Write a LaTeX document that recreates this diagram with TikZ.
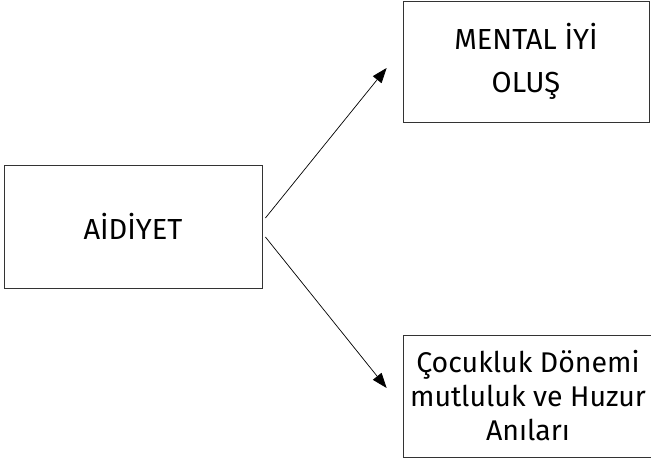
\documentclass[tikz,border=0pt]{standalone}
\usepackage{fontspec}
\setmainfont{Fira Sans}
\usepackage{tikz}
\usetikzlibrary{arrows.meta}

\begin{document}
\begin{tikzpicture}[x=1pt,y=1pt,
    kutu/.style={draw=black!80,line width=0.8pt,rectangle,align=center,inner sep=0},
    ok/.style={-{Triangle[length=15pt,width=11pt]},line width=0.7pt}]
        \useasboundingbox (0,0) rectangle (651,461);
        \node[kutu,minimum width=258pt,minimum height=123pt,font=\fontsize{29}{34}\selectfont] (aidiyet) at (133,234.5) {AİDİYET};
        \node[kutu,minimum width=246pt,minimum height=121pt,font=\fontsize{29}{43}\selectfont] (mental) at (526,399.5) {MENTAL İYİ\\OLUŞ};
        \node[kutu,minimum width=250pt,minimum height=122pt,font=\fontsize{28.5}{34}\selectfont] (cocukluk) at (528,65) {Çocukluk Dönemi\\mutluluk ve Huzur\\Anıları};
        \draw[ok] ([xshift=3pt,yshift=8.5pt]aidiyet.east) -- ([xshift=-16pt,yshift=-6.5pt]mental.west);
        \draw[ok] ([xshift=3pt,yshift=-10.5pt]aidiyet.east) -- ([xshift=-16pt,yshift=8pt]cocukluk.west);
      \end{tikzpicture}
\end{document}
